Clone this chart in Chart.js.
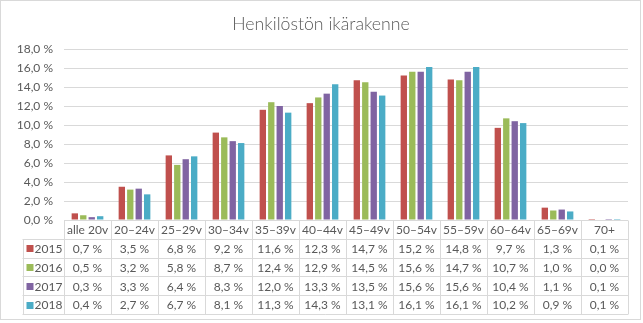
<!DOCTYPE html>
<html>
<head>
<meta charset="utf-8">
<script src="https://cdn.jsdelivr.net/npm/chart.js@4/dist/chart.umd.min.js"></script>
<style>
  html, body { margin: 0; padding: 0; background: #fff; }
  #wrap { width: 643px; height: 323px; position: relative; }
</style>
</head>
<body>
<div id="wrap"><canvas id="c" width="643" height="323"></canvas></div>
<script>
// ---- data ----
const categories = ['alle 20v', '20–24v', '25–29v', '30–34v', '35–39v', '40–44v', '45–49v', '50–54v', '55–59v', '60–64v', '65–69v', '70+'];
const years = ['2015', '2016', '2017', '2018'];
const values2015 = [0.7, 3.5, 6.8, 9.2, 11.6, 12.3, 14.7, 15.2, 14.8, 9.7, 1.3, 0.1];
const values2016 = [0.5, 3.2, 5.8, 8.7, 12.4, 12.9, 14.5, 15.6, 14.7, 10.7, 1.0, 0.0];
const values2017 = [0.3, 3.3, 6.4, 8.3, 12.0, 13.3, 13.5, 15.6, 15.6, 10.4, 1.1, 0.1];
const values2018 = [0.4, 2.7, 6.7, 8.1, 11.3, 14.3, 13.1, 16.1, 16.1, 10.2, 0.9, 0.1];
const yTickValues = [0, 2, 4, 6, 8, 10, 12, 14, 16, 18];
const titleText = 'Henkilöstön ikärakenne';

const seriesValues = [values2015, values2016, values2017, values2018];
const colors = ['#C0504D', '#9BBB59', '#8064A2', '#4BACC6'];
const FONT = 'Lato, "Open Sans", "Liberation Sans", sans-serif';
const TEXT = '#595959';
const LINE = '#D9D9D9';

const fmt = v => v.toFixed(1).replace('.', ',') + ' %';

const tablePlugin = {
  id: 'dataTable',
  afterDraw(chart) {
    const ctx = chart.ctx;
    const area = chart.chartArea;
    const xs = chart.scales.x;
    const n = chart.data.labels.length;
    const colW = (area.right - area.left) / n;
    const rowH = 18.8;
    const top = area.bottom;
    const legendLeft = area.left - 41.5;
    const rows = chart.data.datasets.length + 1;
    const bottom = top + rowH * rows;
    ctx.save();
    ctx.strokeStyle = LINE;
    ctx.lineWidth = 1;
    ctx.beginPath();
    // horizontal lines
    for (let k = 0; k <= rows; k++) {
      const y = Math.round(top + k * rowH) + 0.5;
      ctx.moveTo(k === 0 ? area.left : legendLeft, y);
      ctx.lineTo(area.right, y);
    }
    // vertical lines
    const lx = Math.round(legendLeft) + 0.5;
    ctx.moveTo(lx, Math.round(top + rowH) + 0.5);
    ctx.lineTo(lx, Math.round(bottom) + 0.5);
    for (let i = 0; i <= n; i++) {
      const x = Math.round(area.left + i * colW) + 0.5;
      ctx.moveTo(x, Math.round(top) + 0.5);
      ctx.lineTo(x, Math.round(bottom) + 0.5);
    }
    ctx.stroke();

    ctx.font = '12px ' + FONT;
    ctx.fillStyle = TEXT;
    ctx.textBaseline = 'middle';
    ctx.textAlign = 'center';
    // header
    chart.data.labels.forEach((lab, i) => {
      ctx.fillText(lab, xs.getPixelForValue(i), top + rowH / 2 + 1);
    });
    // rows
    chart.data.datasets.forEach((ds, r) => {
      const cy = top + rowH * (r + 1) + rowH / 2 + 1;
      ctx.fillStyle = ds.backgroundColor;
      ctx.fillRect(legendLeft + 4, Math.round(cy - 4), 7, 7);
      ctx.fillStyle = TEXT;
      ctx.textAlign = 'left';
      ctx.fillText(ds.label, legendLeft + 12, cy);
      ctx.textAlign = 'center';
      ds.data.forEach((v, i) => {
        ctx.fillText(fmt(v), xs.getPixelForValue(i), cy);
      });
    });
    // outer border
    ctx.strokeStyle = LINE;
    ctx.strokeRect(0.5, 0.5, chart.width - 3, chart.height - 4);
    ctx.restore();
  }
};

new Chart(document.getElementById('c'), {
  type: 'bar',
  data: {
    labels: categories,
    datasets: years.map((y, i) => ({
      label: y,
      data: seriesValues[i],
      backgroundColor: colors[i],
      borderWidth: 0,
      categoryPercentage: 0.72,
      barPercentage: 0.75
    }))
  },
  options: {
    responsive: false,
    devicePixelRatio: 1,
    animation: false,
    layout: { padding: { left: 14, right: 15, top: 0, bottom: 103 } },
    plugins: {
      legend: { display: false },
      tooltip: { enabled: false },
      title: {
        display: true,
        text: titleText,
        color: TEXT,
        font: { family: FONT, size: 17.7, weight: '300', lineHeight: 1.2 },
        padding: { top: 14, bottom: 13.76 }
      }
    },
    scales: {
      x: { display: false },
      y: {
        min: 0,
        max: 18,
        afterBuildTicks: s => { s.ticks = yTickValues.map(v => ({ value: v })); },
        afterFit: s => { s.width = 50; },
        ticks: {
          padding: 11,
          color: TEXT,
          font: { family: FONT, size: 12 },
          callback: v => fmt(v)
        },
        grid: { color: LINE, drawTicks: false },
        border: { display: false }
      }
    }
  },
  plugins: [tablePlugin]
});
</script>
</body>
</html>
